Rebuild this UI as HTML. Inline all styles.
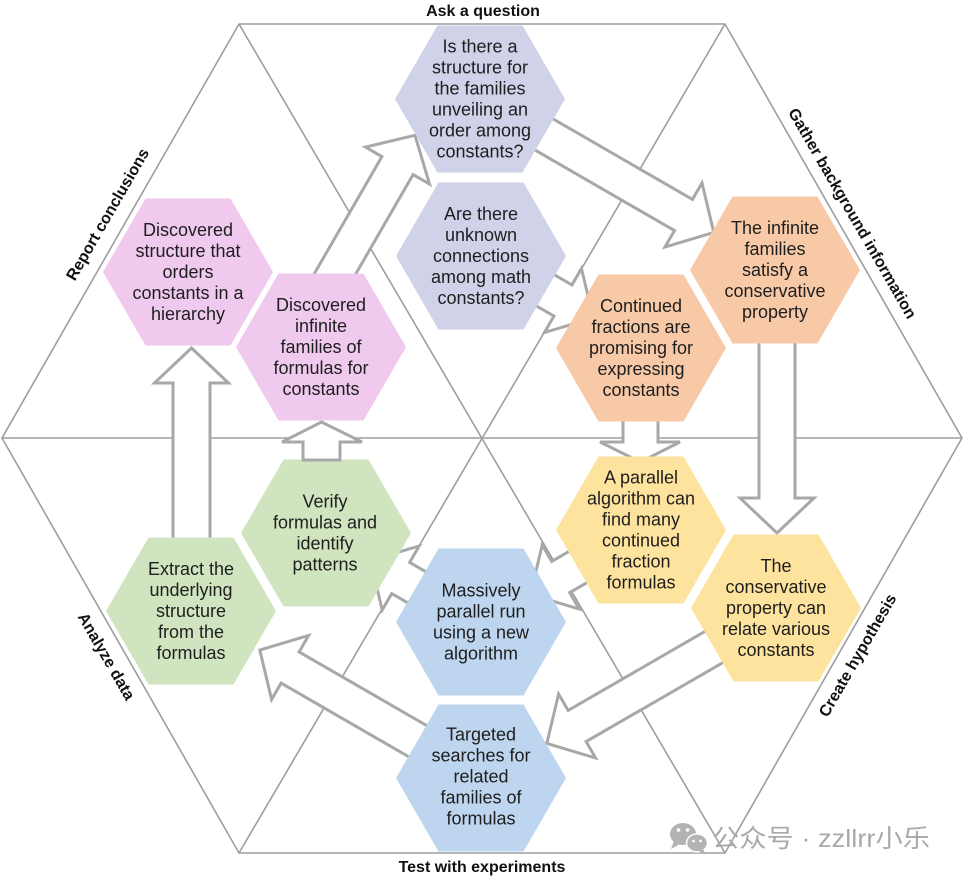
<!DOCTYPE html>
<html><head><meta charset="utf-8"><style>
html,body{margin:0;padding:0;background:#fff;}
svg{display:block;}
.h{font-family:"Liberation Sans","Noto Sans CJK SC",sans-serif;font-size:18px;fill:#1e1e1e;text-anchor:middle;}
.lb{font-family:"Liberation Sans",sans-serif;font-size:16px;font-weight:bold;fill:#111;text-anchor:middle;}
</style></head><body>
<svg width="964" height="876" viewBox="0 0 964 876" xmlns="http://www.w3.org/2000/svg">
<rect width="964" height="876" fill="#fff"/>
<g stroke="#9e9e9e" stroke-width="1.6" fill="none">
<polygon points="239,24 725,24 962,438 725,853 239,853 2,438"/>
<line x1="239" y1="24" x2="725" y2="853"/>
<line x1="725" y1="24" x2="239" y2="853"/>
<line x1="2" y1="438" x2="962" y2="438"/>
</g>
<g fill="#fff" stroke="#a8a8a8" stroke-width="3" stroke-linejoin="miter">
<polygon transform="translate(322.5,295.5) rotate(-60)" points="0,-18 150,-18 150,-37 185,0 150,37 150,18 0,18"/>
<polygon transform="translate(527.6,125) rotate(30)" points="0,-18 180,-18 180,-37 215,0 180,37 180,18 0,18"/>
<polygon transform="translate(511,270.5) rotate(30)" points="0,-18 60,-18 60,-37 95,0 60,37 60,18 0,18"/>
<polygon transform="translate(777,320) rotate(90)" points="0,-18 178,-18 178,-37 213,0 178,37 178,18 0,18"/>
<polygon transform="translate(733,636) rotate(150)" points="0,-18 180,-18 180,-37 215,0 180,37 180,18 0,18"/>
<polygon transform="translate(446,757.5) rotate(210)" points="0,-18 180,-18 180,-37 215,0 180,37 180,18 0,18"/>
<polygon transform="translate(444,603) rotate(210)" points="0,-18 50,-18 50,-37 85,0 50,37 50,18 0,18"/>
<polygon transform="translate(604,552) rotate(150)" points="0,-18 50,-18 50,-37 85,0 50,37 50,18 0,18"/>
<polygon transform="translate(191.5,560) rotate(-90)" points="0,-18.5 177,-18.5 177,-37 212,0 177,37 177,18.5 0,18.5"/>
<polygon points="623,410 658,410 658,442 680,442 640.5,462 600,442 623,442"/>
</g>
<g stroke="none">
<polygon fill="#cfd2e8" points="395,99 437.5,25.5 522.5,25.5 565,99 522.5,172.5 437.5,172.5"/>
<polygon fill="#cfd2e8" points="396,256 438.5,182.5 523.5,182.5 566,256 523.5,329.5 438.5,329.5"/>
<polygon fill="#f0c9ee" points="103,272 145.5,198.5 230.5,198.5 273,272 230.5,345.5 145.5,345.5"/>
<polygon fill="#f0c9ee" points="236,347 278.5,273.5 363.5,273.5 406,347 363.5,420.5 278.5,420.5"/>
<polygon fill="#f8c9a7" points="690,270 732.5,196.5 817.5,196.5 860,270 817.5,343.5 732.5,343.5"/>
<polygon fill="#f8c9a7" points="556,348 598.5,274.5 683.5,274.5 726,348 683.5,421.5 598.5,421.5"/>
<polygon fill="#fde39d" points="556,530 598.5,456.5 683.5,456.5 726,530 683.5,603.5 598.5,603.5"/>
<polygon fill="#fde39d" points="691,608 733.5,534.5 818.5,534.5 861,608 818.5,681.5 733.5,681.5"/>
<polygon fill="#bdd5ee" points="396,622 438.5,548.5 523.5,548.5 566,622 523.5,695.5 438.5,695.5"/>
<polygon fill="#bdd5ee" points="396,778 438.5,704.5 523.5,704.5 566,778 523.5,851.5 438.5,851.5"/>
<polygon fill="#d0e5bf" points="106,611 148.5,537.5 233.5,537.5 276,611 233.5,684.5 148.5,684.5"/>
<polygon fill="#d0e5bf" points="241,533 283.5,459.5 368.5,459.5 411,533 368.5,606.5 283.5,606.5"/>
</g>
<polygon fill="#fff" stroke="#a8a8a8" stroke-width="3" points="303,460 340,460 340,442 362,442 321.5,422 282,442 303,442"/>
<g class="h">
<text x="480" y="52.5">Is there a</text><text x="480" y="73.5">structure for</text><text x="480" y="94.5">the families</text><text x="480" y="115.5">unveiling an</text><text x="480" y="136.5">order among</text><text x="480" y="157.5">constants?</text>
<text x="481" y="220">Are there</text><text x="481" y="241">unknown</text><text x="481" y="262">connections</text><text x="481" y="283">among math</text><text x="481" y="304">constants?</text>
<text x="188" y="236">Discovered</text><text x="188" y="257">structure that</text><text x="188" y="278">orders</text><text x="188" y="299">constants in a</text><text x="188" y="320">hierarchy</text>
<text x="321" y="311">Discovered</text><text x="321" y="332">infinite</text><text x="321" y="353">families of</text><text x="321" y="374">formulas for</text><text x="321" y="395">constants</text>
<text x="775" y="234">The infinite</text><text x="775" y="255">families</text><text x="775" y="276">satisfy a</text><text x="775" y="297">conservative</text><text x="775" y="318">property</text>
<text x="641" y="312">Continued</text><text x="641" y="333">fractions are</text><text x="641" y="354">promising for</text><text x="641" y="375">expressing</text><text x="641" y="396">constants</text>
<text x="641" y="483.5">A parallel</text><text x="641" y="504.5">algorithm can</text><text x="641" y="525.5">find many</text><text x="641" y="546.5">continued</text><text x="641" y="567.5">fraction</text><text x="641" y="588.5">formulas</text>
<text x="776" y="572">The</text><text x="776" y="593">conservative</text><text x="776" y="614">property can</text><text x="776" y="635">relate various</text><text x="776" y="656">constants</text>
<text x="481" y="596.5">Massively</text><text x="481" y="617.5">parallel run</text><text x="481" y="638.5">using a new</text><text x="481" y="659.5">algorithm</text>
<text x="481" y="740.5">Targeted</text><text x="481" y="761.5">searches for</text><text x="481" y="782.5">related</text><text x="481" y="803.5">families of</text><text x="481" y="824.5">formulas</text>
<text x="191" y="575">Extract the</text><text x="191" y="596">underlying</text><text x="191" y="617">structure</text><text x="191" y="638">from the</text><text x="191" y="659">formulas</text>
<text x="325" y="507.5">Verify</text><text x="325" y="528.5">formulas and</text><text x="325" y="549.5">identify</text><text x="325" y="570.5">patterns</text>
</g>
<g class="lb">
<text x="483" y="16">Ask a question</text>
<text x="482" y="872">Test with experiments</text>
<text transform="translate(107,214) rotate(-60)" y="6">Report conclusions</text>
<text transform="translate(853,213) rotate(60)" y="6">Gather background information</text>
<text transform="translate(107,656) rotate(60)" y="6">Analyze data</text>
<text transform="translate(857,655) rotate(-60)" y="6">Create hypothesis</text>
</g>
<g>
<ellipse cx="683" cy="834" rx="13" ry="11" fill="#b3b3b3"/>
<polygon points="674,841 671,849 680,844" fill="#b3b3b3"/>
<ellipse cx="697" cy="843" rx="10.5" ry="9" fill="#b3b3b3" stroke="#fff" stroke-width="1.5"/>
<polygon points="703,849 706,855 699,851" fill="#b3b3b3"/>
<circle cx="678.5" cy="830" r="1.8" fill="#fff"/><circle cx="687.5" cy="830" r="1.8" fill="#fff"/>
<circle cx="693.5" cy="841" r="1.4" fill="#fff"/><circle cx="700.5" cy="841" r="1.4" fill="#fff"/>
<text x="712" y="847" font-family="Liberation Sans, Noto Sans CJK SC, sans-serif" font-size="25" fill="#a9a9a9" textLength="218" lengthAdjust="spacingAndGlyphs">公众号 · zzllrr小乐</text>
</g>
</svg>
</body></html>
